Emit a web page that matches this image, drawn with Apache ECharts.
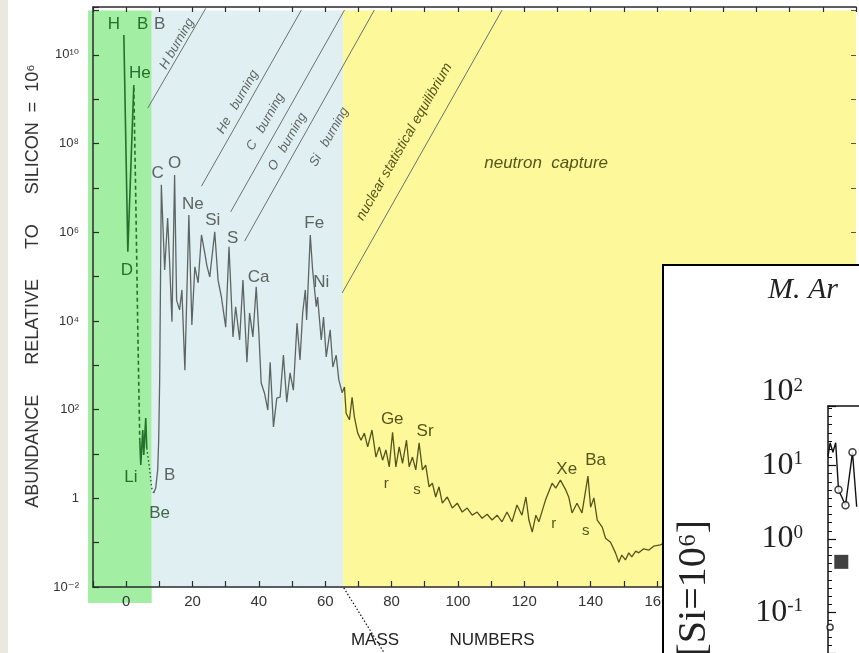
<!DOCTYPE html>
<html><head><meta charset="utf-8"><title>Solar system abundances</title>
<script src="https://cdn.jsdelivr.net/npm/echarts@6.0.0/dist/echarts.min.js"></script>
<style>html,body{margin:0;padding:0;background:#fff;overflow:hidden}#chart{width:859px;height:653px}</style>
</head><body><div id="chart"></div>
<script>
// ---------- data (mass number A, log10 abundance relative to Si = 10^6) ----------
const xTickLabels = ['0', '20', '40', '60', '80', '100', '120', '140', '160'];
const yTickExponents = [-2, 0, 2, 4, 6, 8, 10];
const yTickLabels = ['10\u207B\u00B2', '1', '10\u00B2', '10\u2074', '10\u2076', '10\u2078', '10\u00B9\u2070'];

// H - D - He (solid)
const hdheMass = [-0.7, 0.5, 2.3];
const hdheLog = [10.45, 5.56, 9.32];
// He -> Li (dashed)
const heLiMass = [2.3, 2.9, 3.5, 4.1];
const heLiLog = [9.26, 6.73, 3.80, 1.31];
// Li zig-zag
const liMass = [4.1, 4.4, 5.0, 5.3, 5.9, 6.2];
const liLog = [1.31, 0.75, 1.54, 0.98, 1.81, 1.13];
// Li -> Be (dotted)
const liBeMass = [6.2, 7.1, 7.7, 8.3];
const liBeLog = [1.13, 0.64, 0.23, 0.12];

// main abundance curve (Be onwards)
const massNumbers = [8.3, 8.9, 9.5, 9.8, 10.1, 10.3, 10.6, 11.6, 12.5, 13.1,
  13.8, 14.6, 15.2, 16.1, 16.8, 17.7, 18.9, 19.8, 20.7, 21.7,
  22.7, 23.7, 24.3, 25.2, 26.7, 27.7, 28.7, 30.0, 31.0, 32.2,
  33.0, 34.2, 35.2, 36.4, 37.2, 38.2, 39.2, 40.0, 40.7, 41.7,
  42.7, 43.4, 44.4, 45.4, 46.4, 47.4, 48.4, 49.4, 50.4, 51.5,
  52.4, 53.2, 54.0, 54.4, 55.5, 56.2, 56.7, 57.3, 57.7, 58.8,
  59.5, 60.3, 61.5, 62.3, 63.3, 64.1, 65.1, 65.8, 66.3, 67.3,
  68.1, 68.8, 69.8, 70.8, 71.8, 72.8, 74.1, 75.3, 76.3, 77.3,
  78.3, 79.3, 80.3, 81.3, 82.3, 83.3, 84.5, 85.3, 86.3, 87.3,
  88.3, 89.3, 90.3, 91.3, 92.3, 93.3, 94.3, 95.3, 96.8, 98.3,
  99.8, 101.3, 102.8, 104.3, 105.8, 107.3, 108.8, 110.3, 111.8, 113.3,
  114.8, 116.3, 117.8, 119.3, 120.5, 121.4, 122.4, 123.5, 124.4, 126.4,
  128.4, 129.5, 130.9, 132.5, 133.4, 134.4, 135.9, 137.4, 139.2, 140.0,
  141.0, 142.0, 143.5, 144.5, 146.0, 147.5, 148.5, 149.4, 150.5, 151.5,
  152.4, 153.6, 154.5, 156.0, 157.5, 159.0, 161.0, 162.9];
const logAbundance = [0.12, 0.23, 0.64, 1.31, 2.67, 4.47, 7.07, 5.15, 6.32, 5.31,
  3.98, 7.29, 4.47, 4.25, 4.70, 2.89, 6.39, 3.91, 5.22, 4.86,
  5.94, 5.53, 5.26, 4.99, 6.01, 4.92, 4.54, 3.86, 5.67, 3.64,
  4.32, 3.57, 4.92, 3.07, 4.18, 3.64, 4.77, 3.73, 2.60, 2.37,
  1.99, 3.07, 1.61, 2.26, 2.28, 3.23, 2.17, 2.83, 2.44, 3.95,
  3.12, 4.18, 4.70, 4.02, 5.94, 5.15, 4.77, 4.32, 4.54, 3.57,
  4.09, 3.19, 3.80, 2.96, 3.23, 2.67, 2.38, 2.51, 1.92, 1.77,
  2.28, 1.83, 1.47, 1.31, 1.47, 1.16, 1.54, 0.93, 1.16, 0.86,
  1.09, 0.71, 1.49, 0.71, 1.16, 0.79, 1.31, 0.71, 0.93, 0.64,
  1.25, 0.64, 0.75, 0.26, 0.34, 0.03, 0.26, -0.11, 0.03, -0.22,
  -0.11, -0.31, -0.22, -0.38, -0.31, -0.45, -0.36, -0.49, -0.38, -0.53,
  -0.31, -0.53, -0.15, -0.38, 0.03, -0.49, -0.76, -0.38, -0.53, -0.04,
  0.34, 0.23, 0.41, 0.19, 0.03, -0.33, -0.11, -0.33, 0.50, -0.20,
  0.01, -0.49, -0.65, -0.90, -0.99, -1.23, -1.44, -1.28, -1.39, -1.23,
  -1.32, -1.19, -1.23, -1.14, -1.17, -1.08, -1.05, -0.99];

// inset (second, smaller chart)
const insetTickExponents = [2, 1, 0, -1];
const insetZ = [1.5, 1.8, 2.2, 2.6, 3, 4, 5, 5.6];
const insetLog = [1.12, 1.31, 1.18, 1.31, 0.67, 0.46, 1.18, 0.44];
const insetCircleZ = [3, 4, 5];
const insetCircleLog = [0.67, 0.46, 1.18];
const insetSquareZ = [3.4];
const insetSquareLog = [-0.31];
const insetDotZ = [1.8];
const insetDotLog = [-1.20];

// ---------- chart ----------
const chart = echarts.init(document.getElementById('chart'));
const pairs = (xs, ys) => xs.map((x, i) => [x, ys[i]]);
const SANS = '"Liberation Sans", "DejaVu Sans", sans-serif';
const SERIF = '"Liberation Serif", "DejaVu Serif", serif';
const AXIS = '#2b2b2b';
const GREEN = '#24702c', GRAY = '#5d6464', OLIVE = '#56541c';

const yFmt = v => {
  const n = Math.round(v);
  if (Math.abs(v - n) > 1e-6) return '';
  const k = yTickExponents.indexOf(n);
  return k >= 0 ? yTickLabels[k] : '';
};
const xFmt = v => {
  const s = String(Math.round(v));
  return (Math.abs(v - Math.round(v)) < 1e-6 && xTickLabels.indexOf(s) >= 0) ? s : '';
};

const option = {
  animation: false,
  backgroundColor: '#ffffff',
  grid: [
    { left: 93, top: 7, width: 765, height: 580, show: false },
    { left: 828, top: 406, width: 31, height: 247, show: false }
  ],
  xAxis: [
    { gridIndex: 0, type: 'value', min: -10, max: 220, interval: 10, position: 'bottom',
      axisLine: { show: true, onZero: false, lineStyle: { color: AXIS, width: 1.5 } },
      axisTick: { show: true, inside: true, length: 6, lineStyle: { color: AXIS, width: 1.2 } },
      axisLabel: { formatter: xFmt, fontSize: 15, color: '#333', margin: 7, fontFamily: SANS },
      splitLine: { show: false } },
    { gridIndex: 0, type: 'value', min: -10, max: 220, interval: 10, position: 'top',
      axisLine: { show: true, onZero: false, lineStyle: { color: AXIS, width: 1.5 } },
      axisTick: { show: true, inside: true, length: 5, lineStyle: { color: AXIS, width: 1.2 } },
      axisLabel: { show: false }, splitLine: { show: false } },
    { gridIndex: 1, type: 'value', min: 1.5, max: 5.93, show: false,
      axisLine: { onZero: false } },
    { gridIndex: 1, type: 'value', min: 1.5, max: 5.93, position: 'top', z: 60,
      axisLine: { show: true, onZero: false, lineStyle: { color: '#111', width: 1.5 } },
      axisTick: { show: false }, axisLabel: { show: false }, splitLine: { show: false } }
  ],
  yAxis: [
    { gridIndex: 0, type: 'value', min: -2, max: 11.08, interval: 1, position: 'left',
      axisLine: { show: true, onZero: false, lineStyle: { color: AXIS, width: 1.5 } },
      axisTick: { show: true, inside: true, length: 6, lineStyle: { color: AXIS, width: 1.2 } },
      axisLabel: { formatter: yFmt, fontSize: 13, color: '#333', margin: 14, fontFamily: SANS },
      splitLine: { show: false } },
    { gridIndex: 0, type: 'value', min: -2, max: 11.08, interval: 1, position: 'right',
      axisLine: { show: false, onZero: false },
      axisTick: { show: true, inside: true, length: 5, lineStyle: { color: '#555', width: 1 } },
      axisLabel: { show: false }, splitLine: { show: false } },
    { gridIndex: 1, type: 'value', min: -1.55, max: 1.81, splitNumber: 3, position: 'left', z: 60,
      axisLine: { show: true, onZero: false, lineStyle: { color: '#111', width: 1.5 } },
      axisTick: { show: true, inside: true, length: 8, lineStyle: { color: '#111', width: 1.2 } },
      minorTick: { show: true, splitNumber: 9, length: 4, lineStyle: { color: '#111', width: 1 } },
      axisLabel: { show: false }, splitLine: { show: false } }
  ],
  visualMap: {
    type: 'piecewise', show: false, dimension: 0, seriesIndex: 4,
    pieces: [
      { lt: 7.7, color: GREEN },
      { gte: 7.7, lt: 65.4, color: GRAY },
      { gte: 65.4, color: OLIVE }
    ]
  },
  series: [
    { type: 'line', data: pairs(hdheMass, hdheLog), symbol: 'none', z: 3,
      lineStyle: { color: GREEN, width: 1.6 } },
    { type: 'line', data: pairs(heLiMass, heLiLog), symbol: 'none', z: 3,
      lineStyle: { color: GREEN, width: 1.6, type: [4, 3] } },
    { type: 'line', data: pairs(liMass, liLog), symbol: 'none', z: 3,
      lineStyle: { color: GREEN, width: 1.6 } },
    { type: 'line', data: pairs(liBeMass, liBeLog), symbol: 'none', z: 3,
      lineStyle: { color: '#2f5f35', width: 1.4, type: [1.5, 2.5] } },
    { type: 'line', data: pairs(massNumbers, logAbundance), symbol: 'none', z: 3,
      lineStyle: { width: 1.3 } },
    { type: 'line', xAxisIndex: 2, yAxisIndex: 2, data: pairs(insetZ, insetLog), symbol: 'none', z: 70,
      lineStyle: { color: '#111', width: 1.4 } },
    { type: 'scatter', xAxisIndex: 2, yAxisIndex: 2, data: pairs(insetCircleZ, insetCircleLog), z: 71,
      symbol: 'circle', symbolSize: 7, itemStyle: { color: '#fff', borderColor: '#111', borderWidth: 1.5 } },
    { type: 'scatter', xAxisIndex: 2, yAxisIndex: 2, data: pairs(insetSquareZ, insetSquareLog), z: 71,
      symbol: 'rect', symbolSize: 14, itemStyle: { color: '#111' } },
    { type: 'scatter', xAxisIndex: 2, yAxisIndex: 2, data: pairs(insetDotZ, insetDotLog), z: 71,
      symbol: 'circle', symbolSize: 6, itemStyle: { color: '#fff', borderColor: '#111', borderWidth: 1.5 } }
  ]
};
chart.setOption(option);

// ---------- annotations (positions in data coordinates) ----------
const bands = [
  { from: -11.5, to: 7.7, top: 11.0, bottom: -2.36, color: '#a2eea2' },
  { from: 7.7, to: 65.4, top: 11.0, bottom: -2, color: '#e0eff1' },
  { from: 65.4, to: 220, top: 11.0, bottom: -2, color: '#fdf99a' }
];
const stageLines = [
  [[6.5, 8.80], [24.0, 11.05]],
  [[22.7, 7.04], [52.8, 11.01]],
  [[31.5, 6.46], [65.8, 11.01]],
  [[35.7, 5.80], [74.8, 11.01]],
  [[65.1, 4.63], [113.3, 11.01]]
];
const stageLabels = [
  { text: 'H burning', at: [15.3, 10.25], color: GRAY, size: 13 },
  { text: 'He   burning', at: [33.6, 8.94], color: GRAY, size: 13 },
  { text: 'C   burning', at: [42.0, 8.49], color: GRAY, size: 13 },
  { text: 'O   burning', at: [48.6, 8.04], color: GRAY, size: 13 },
  { text: 'Si   burning', at: [61.2, 8.15], color: GRAY, size: 13 },
  { text: 'nuclear statistical equilibrium', at: [83.8, 8.04], color: OLIVE, size: 14 }
];
const elementNames = ['H', 'B', 'B', 'He', 'D', 'Li', 'B', 'Be', 'C', 'O', 'Ne', 'Si', 'S', 'Ca', 'Fe', 'Ni',
  'Ge', 'Sr', 'r', 's', 'Xe', 'Ba', 'r', 's'];
const elementAnchors = [[-3.7, 10.70], [5.0, 10.70], [10.1, 10.70], [4.1, 9.59], [0.2, 5.15], [1.4, 0.48],
  [13.1, 0.52], [10.1, -0.33], [9.5, 7.34], [14.6, 7.56], [20.1, 6.62], [26.1, 6.28], [32.1, 5.87],
  [39.9, 4.99], [56.7, 6.21], [58.8, 4.86], [80.2, 1.79], [90.1, 1.50], [78.4, 0.32], [87.7, 0.19],
  [132.8, 0.66], [141.5, 0.86], [128.9, -0.58], [138.5, -0.74]];
const elementColors = [GREEN, GREEN, GRAY, GREEN, GREEN, GREEN, GRAY, '#41684a', GRAY, GRAY, GRAY, GRAY, GRAY,
  GRAY, GRAY, GRAY, OLIVE, OLIVE, OLIVE, OLIVE, OLIVE, OLIVE, OLIVE, OLIVE];

const toPx = p => chart.convertToPixel({ xAxisIndex: 0, yAxisIndex: 0 }, p);
const toInset = p => chart.convertToPixel({ xAxisIndex: 2, yAxisIndex: 2 }, p);
const txt = (x, y, text, font, fill, align, vAlign, rotation, z) => ({
  type: 'text', x: x, y: y, rotation: rotation || 0, z: z,
  style: { text: text, font: font, fill: fill, align: align, verticalAlign: vAlign,
           textAlign: align, textVerticalAlign: vAlign }
});

const g = [];
g.push({ type: 'rect', z: -6, shape: { x: 0, y: 0, width: 8, height: 653 }, style: { fill: '#ebe8df' } });
bands.forEach(b => {
  const p0 = toPx([b.from, b.top]), p1 = toPx([b.to, b.bottom]);
  g.push({ type: 'rect', z: -5, shape: { x: p0[0], y: p0[1], width: p1[0] - p0[0], height: p1[1] - p0[1] },
           style: { fill: b.color } });
});
stageLines.forEach(l => {
  const a = toPx(l[0]), b = toPx(l[1]);
  g.push({ type: 'line', z: 1, shape: { x1: a[0], y1: a[1], x2: b[0], y2: b[1] },
           style: { stroke: '#6b7171', lineWidth: 1 } });
});
stageLabels.forEach(s => {
  const p = toPx(s.at);
  g.push(txt(p[0], p[1], s.text, 'italic ' + s.size + 'px ' + SANS, s.color, 'center', 'middle', 1.05, 4));
});
elementNames.forEach((n, i) => {
  const p = toPx(elementAnchors[i]);
  const size = (n === 'r' || n === 's') ? 15 : 17;
  g.push(txt(p[0], p[1], n, size + 'px ' + SANS, elementColors[i], 'center', 'middle', 0, 4));
});
{
  const p = toPx([126.6, 7.56]);
  g.push(txt(p[0], p[1], 'neutron  capture', 'italic 17px ' + SANS, OLIVE, 'center', 'middle', 0, 4));
}
// axis titles
g.push(txt(33, 286, 'ABUNDANCE      RELATIVE      TO      SILICON  =  10\u2076', '18px ' + SANS, '#333', 'center', 'middle', Math.PI / 2, 5));
g.push(txt(375, 640, 'MASS', '17px ' + SANS, '#222', 'center', 'middle', 0, 5));
g.push(txt(492, 640, 'NUMBERS', '17px ' + SANS, '#222', 'center', 'middle', 0, 5));
// dotted connector of the collage
{
  const a = toPx([65.6, -2.02]), b = toPx([77.8, -3.49]);
  g.push({ type: 'line', z: 40, shape: { x1: a[0], y1: a[1], x2: b[0], y2: b[1] },
           style: { stroke: '#111', lineWidth: 1.2, lineDash: [1.5, 2] } });
}
// inset frame and its texts
g.push({ type: 'rect', z: 50, shape: { x: 663, y: 265, width: 230, height: 420 },
         style: { fill: '#ffffff', stroke: '#000', lineWidth: 2 } });
g.push(txt(768, 290, 'M. Ar', 'italic 30px ' + SERIF, '#222', 'left', 'middle', 0, 80));
insetTickExponents.forEach(e => {
  const p = toInset([1.5, e]);
  g.push({ type: 'text', x: 803, y: p[1], z: 80,
    style: { text: '{b|10}{s|' + (e < 0 ? '-' + (-e) : e) + '}', align: 'right', verticalAlign: 'middle',
             textAlign: 'right', textVerticalAlign: 'middle',
             rich: { b: { fontSize: 32, fontFamily: SERIF, fill: '#222', color: '#222' },
                     s: { fontSize: 19, fontFamily: SERIF, fill: '#222', color: '#222', verticalAlign: 'top' } } } });
});
g.push(txt(694, 520, '[Si=10\u2076]', '40px ' + SERIF, '#222', 'right', 'middle', Math.PI / 2, 80));

chart.setOption({ graphic: g });
</script></body></html>
